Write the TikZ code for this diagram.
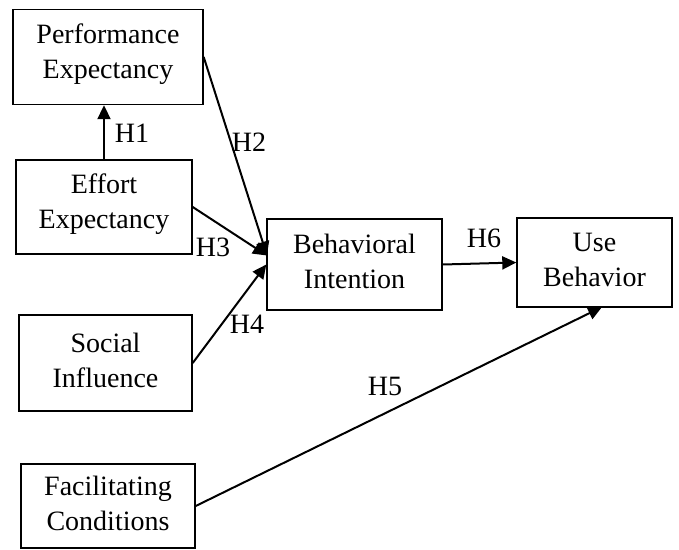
\documentclass[tikz,border=0pt]{standalone}
\usepackage{fontspec}
\setmainfont{Liberation Serif}
\usetikzlibrary{arrows.meta}
\begin{document}
\begin{tikzpicture}[x=1pt,y=-1pt,
  box/.style={draw, line width=1.4pt, inner sep=0pt},
  boxlab/.style={align=center, inner sep=0pt, yshift=3pt,
    font=\fontsize{28}{35}\selectfont},
  conn/.style={line width=2pt, -{Triangle[length=14pt,width=13pt]}},
  lab/.style={font=\fontsize{28}{35}\selectfont, inner sep=0pt}]
\useasboundingbox (0,0) rectangle (679,549);
\node[box, minimum width=190pt, minimum height=95pt,
  label={[boxlab]center:{Performance\\Expectancy}}] (pe) at (108,57) {};
\node[box, minimum width=176pt, minimum height=94pt,
  label={[boxlab]center:{Effort\\Expectancy}}] (ee) at (104,207) {};
\node[box, minimum width=173pt, minimum height=96pt,
  label={[boxlab]center:{Social\\Influence}}] (si) at (105.5,363) {};
\node[box, minimum width=174pt, minimum height=84pt,
  label={[boxlab]center:{Facilitating\\Conditions}}] (fc) at (108,506) {};
\node[box, minimum width=175pt, minimum height=91pt,
  label={[boxlab]center:{Behavioral\\Intention}}] (bi) at (354.5,264.5) {};
\node[box, minimum width=155pt, minimum height=89pt,
  label={[boxlab]center:{Use\\Behavior}}] (ub) at (594.5,262.5) {};
\coordinate (bitop) at (267,255.5);
\coordinate (ubin) at (602,307);
\draw[conn] (ee.north) -- (ee.north |- pe.south);
\draw[conn] (pe.east) -- (bitop);
\draw[conn] (ee.east) -- (bitop);
\draw[conn] (si.east) -- (bi.west);
\draw[conn] (bi.east) -- (ub.west);
\draw[conn] (fc.east) -- (ubin);
\node[lab] (h1) at (132,133) {H1};
\node[lab] (h2) at (249,142) {H2};
\node[lab] (h3) at (213,247) {H3};
\node[lab] (h4) at (247,324) {H4};
\node[lab] (h6) at (484,238) {H6};
\node[lab] (h5) at (385,386) {H5};
\end{tikzpicture}
\end{document}
